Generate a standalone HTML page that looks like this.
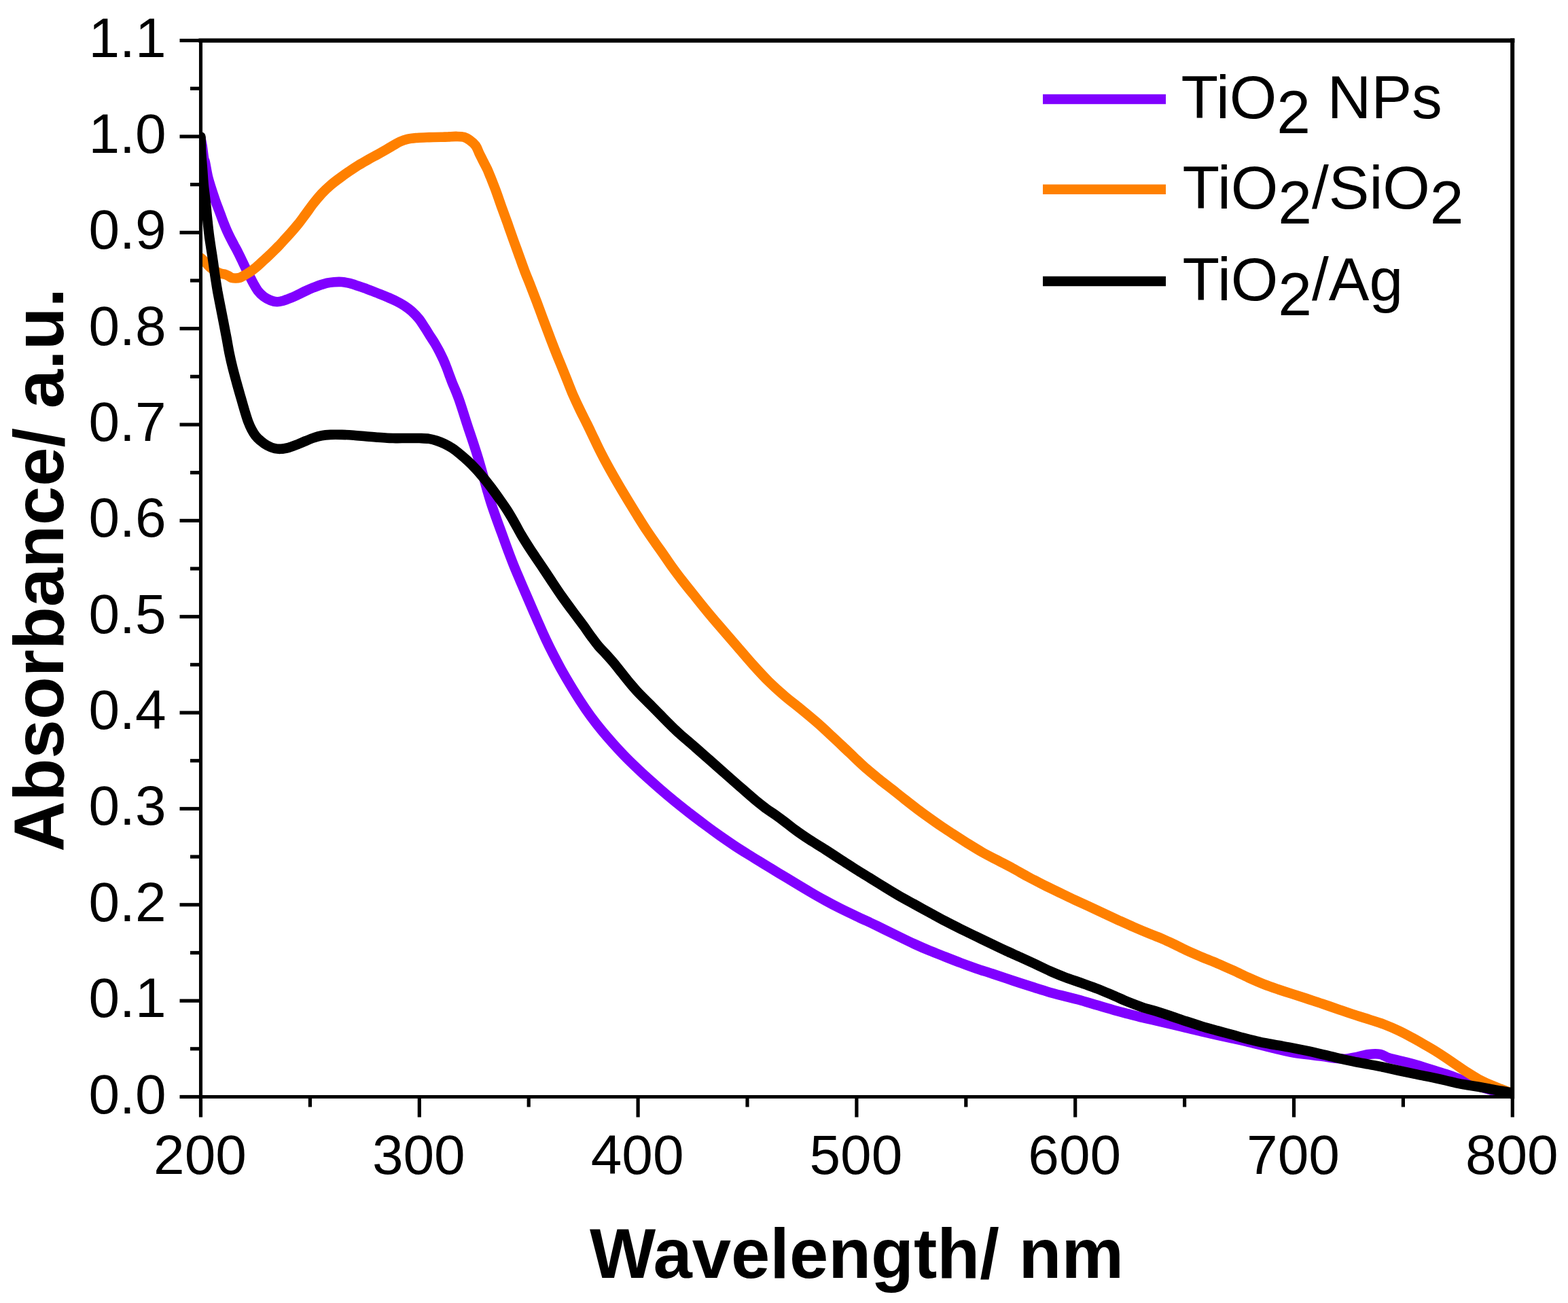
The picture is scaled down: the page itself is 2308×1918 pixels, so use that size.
<!DOCTYPE html>
<html><head><meta charset="utf-8"><style>
html,body{margin:0;padding:0;background:#fff;overflow:hidden;width:2308px;height:1918px;}
svg{display:block;}
</style></head><body>
<svg width="2308" height="1918" viewBox="0 0 2308 1918">
<rect width="2308" height="1918" fill="#fff"/>
<defs><clipPath id="pc"><rect x="295.5" y="59.6" width="1930.8000000000002" height="1554.9"/></clipPath></defs>
<g clip-path="url(#pc)">
<path d="M295.5,204.0 C296.2,207.3 296.8,210.0 297.5,214.0 C298.5,219.7 299.5,231.5 300.5,235.0 C300.8,236.2 301.1,236.1 301.5,237.3 C302.6,240.9 304.2,252.9 306.0,260.2 C307.7,267.2 310.1,274.2 312.0,280.3 C313.7,285.5 315.2,290.1 316.7,294.6 C318.1,298.7 319.6,302.3 321.0,306.1 C322.4,309.9 323.8,313.7 325.3,317.5 C326.7,321.3 328.1,325.2 329.6,329.0 C331.1,332.8 332.7,336.7 334.4,340.5 C336.1,344.2 337.9,348.0 339.8,351.6 C341.6,355.1 343.4,358.4 345.2,361.9 C347.1,365.2 348.9,368.5 350.6,372.0 C352.4,375.5 354.1,379.2 355.9,382.9 C357.7,386.7 359.5,390.6 361.4,394.4 C363.3,398.2 365.3,402.0 367.2,405.8 C369.2,409.6 371.0,413.6 373.1,417.3 C375.1,420.9 377.0,424.7 379.5,427.9 C382.0,431.1 385.0,434.0 388.1,436.4 C391.2,438.7 394.9,440.8 398.3,442.1 C401.4,443.3 404.6,444.2 407.8,444.2 C410.8,444.3 413.8,443.5 416.9,442.7 C420.4,441.8 423.9,440.3 427.5,438.8 C431.3,437.3 435.2,435.4 439.0,433.6 C442.8,431.8 446.6,429.8 450.5,428.0 C454.3,426.3 458.2,424.6 461.9,423.1 C465.4,421.8 468.8,420.4 472.2,419.3 C475.3,418.3 478.1,417.3 481.2,416.6 C484.5,415.9 488.0,415.5 491.5,415.2 C495.2,414.9 499.1,414.7 502.9,415.0 C506.8,415.3 510.6,416.0 514.4,416.9 C518.2,417.8 522.0,419.2 525.8,420.5 C529.7,421.7 533.5,423.0 537.3,424.4 C541.1,425.8 545.0,427.2 548.8,428.7 C552.6,430.2 556.4,431.7 560.2,433.3 C564.1,434.9 567.9,436.4 571.7,438.0 C575.5,439.7 579.4,441.3 583.2,443.2 C587.0,445.1 590.9,447.2 594.6,449.6 C598.5,452.2 602.5,455.0 606.1,458.2 C609.8,461.6 613.5,465.4 616.7,469.4 C619.9,473.5 622.6,478.1 625.4,482.3 C628.1,486.4 630.6,490.6 633.1,494.6 C635.6,498.5 638.2,502.2 640.5,506.1 C642.7,509.9 644.8,513.7 646.8,517.5 C648.7,521.3 650.6,525.2 652.4,529.0 C654.1,532.8 655.7,536.6 657.2,540.5 C658.7,544.3 660.0,548.1 661.4,551.9 C662.8,555.7 664.2,559.6 665.7,563.4 C667.1,567.0 668.7,570.3 670.2,574.0 C671.8,578.0 673.4,581.9 675.1,586.6 C677.2,592.3 679.3,599.1 681.5,605.8 C683.8,613.1 686.4,621.1 688.9,628.8 C691.5,636.4 694.1,644.0 696.6,651.7 C699.1,659.3 701.6,666.9 703.9,674.6 C706.2,682.2 708.3,689.9 710.5,697.5 C712.6,705.2 714.7,713.0 716.8,720.5 C718.9,727.7 720.9,734.8 723.2,741.8 C725.4,748.7 727.8,755.3 730.3,762.3 C732.9,769.7 735.8,777.4 738.6,785.1 C741.5,792.9 744.3,801.0 747.2,808.8 C750.1,816.5 752.9,824.1 756.0,831.7 C759.1,839.4 762.4,847.0 765.6,854.6 C768.9,862.2 772.2,869.9 775.5,877.5 C778.8,885.2 782.2,893.0 785.4,900.5 C788.6,907.7 791.6,914.9 794.8,921.8 C797.7,928.5 800.6,934.9 803.7,941.6 C807.0,948.6 810.5,955.7 814.2,962.9 C818.1,970.4 822.1,978.2 826.3,985.8 C830.6,993.5 835.1,1001.2 839.7,1008.8 C844.3,1016.5 849.1,1024.1 854.0,1031.7 C859.0,1039.4 864.3,1047.2 869.6,1054.6 C874.9,1061.8 880.2,1068.6 885.8,1075.3 C891.2,1081.9 896.6,1088.0 902.5,1094.6 C908.9,1101.7 915.8,1109.2 922.9,1116.4 C930.2,1123.8 938.1,1131.2 945.8,1138.4 C953.4,1145.4 961.1,1152.2 968.8,1158.9 C976.4,1165.5 984.0,1172.0 991.7,1178.4 C999.3,1184.6 1006.9,1190.7 1014.6,1196.6 C1022.2,1202.5 1029.9,1208.3 1037.5,1214.0 C1045.1,1219.7 1052.9,1225.4 1060.5,1230.8 C1067.7,1235.8 1074.8,1240.7 1081.8,1245.4 C1088.5,1249.8 1094.8,1253.7 1101.6,1257.9 C1108.5,1262.3 1115.7,1266.6 1122.9,1271.0 C1130.4,1275.6 1138.2,1280.3 1145.8,1284.9 C1153.5,1289.5 1161.1,1294.2 1168.8,1298.8 C1176.4,1303.4 1184.0,1308.0 1191.7,1312.5 C1199.3,1317.0 1206.9,1321.4 1214.6,1325.5 C1222.2,1329.7 1229.8,1333.7 1237.5,1337.6 C1245.1,1341.4 1253.0,1345.1 1260.5,1348.6 C1267.7,1352.1 1274.9,1355.3 1281.8,1358.5 C1288.5,1361.7 1294.9,1364.8 1301.6,1368.1 C1308.6,1371.5 1315.7,1375.0 1322.9,1378.5 C1330.4,1382.2 1338.2,1386.0 1345.8,1389.5 C1353.4,1393.0 1361.1,1396.4 1368.8,1399.6 C1376.4,1402.7 1384.1,1405.6 1391.7,1408.6 C1399.3,1411.6 1406.9,1414.6 1414.6,1417.5 C1422.2,1420.3 1429.9,1423.1 1437.5,1425.8 C1445.2,1428.4 1453.0,1430.8 1460.5,1433.3 C1467.7,1435.7 1474.8,1438.1 1481.8,1440.4 C1488.5,1442.6 1494.9,1444.8 1501.6,1447.0 C1508.5,1449.2 1515.7,1451.5 1522.9,1453.8 C1530.4,1456.2 1538.2,1458.7 1545.8,1460.9 C1553.5,1463.0 1561.1,1464.9 1568.8,1466.9 C1576.4,1468.9 1584.1,1470.6 1591.7,1472.7 C1599.4,1474.9 1607.0,1477.3 1614.6,1479.6 C1622.2,1481.8 1629.9,1484.1 1637.5,1486.2 C1645.2,1488.4 1653.0,1490.4 1660.5,1492.4 C1667.7,1494.3 1674.8,1496.2 1681.8,1497.9 C1688.5,1499.5 1694.9,1500.8 1701.6,1502.4 C1708.5,1504.0 1715.7,1505.6 1722.9,1507.3 C1730.4,1509.1 1738.2,1511.1 1745.8,1513.0 C1753.5,1514.8 1761.1,1516.7 1768.8,1518.4 C1776.4,1520.2 1784.1,1521.9 1791.7,1523.6 C1799.3,1525.3 1807.0,1527.0 1814.6,1528.7 C1822.2,1530.4 1829.9,1532.1 1837.5,1533.9 C1845.2,1535.6 1853.0,1537.5 1860.5,1539.3 C1867.7,1541.1 1874.8,1543.0 1881.8,1544.7 C1888.5,1546.3 1894.8,1547.8 1901.6,1549.0 C1908.5,1550.3 1915.7,1551.2 1922.9,1552.1 C1930.4,1553.1 1938.2,1553.8 1945.8,1554.8 C1953.5,1555.8 1962.5,1557.4 1968.8,1558.0 C1973.2,1558.4 1976.0,1558.9 1980.2,1558.7 C1985.4,1558.4 1991.7,1557.0 1997.4,1555.9 C2003.2,1554.8 2008.8,1552.6 2014.6,1551.9 C2020.3,1551.2 2026.7,1550.8 2031.8,1551.9 C2036.1,1552.8 2039.4,1555.7 2043.3,1557.0 C2047.1,1558.3 2050.5,1558.9 2054.7,1559.9 C2059.8,1561.2 2066.4,1562.6 2071.9,1564.1 C2077.0,1565.4 2081.9,1566.7 2086.5,1568.0 C2090.7,1569.2 2094.2,1570.5 2098.3,1571.7 C2102.7,1573.1 2107.3,1574.5 2112.1,1576.0 C2117.2,1577.6 2122.9,1579.2 2128.1,1581.0 C2133.2,1582.7 2138.3,1584.5 2143.2,1586.3 C2147.8,1588.1 2152.1,1590.0 2156.6,1591.8 C2161.1,1593.5 2165.7,1595.3 2170.1,1596.8 C2174.4,1598.4 2178.6,1599.7 2182.7,1601.0 C2186.6,1602.2 2190.2,1603.3 2194.2,1604.4 C2198.7,1605.6 2203.6,1606.8 2208.7,1608.0 C2214.2,1609.3 2220.4,1610.7 2226.3,1612.0" fill="none" stroke="#8000FF" stroke-width="14.6" stroke-linejoin="round" stroke-linecap="round"/>
<path d="M295.5,379.5 C297.5,381.4 299.4,383.1 301.5,385.2 C304.1,387.8 306.7,391.3 310.0,394.0 C313.8,397.0 319.4,400.6 323.2,402.1 C325.8,403.1 327.9,403.0 330.1,403.6 C332.1,404.2 333.9,404.9 335.8,405.8 C337.8,406.7 339.6,408.4 341.6,409.0 C343.5,409.6 345.4,409.5 347.3,409.5 C349.2,409.5 351.1,409.3 353.0,408.7 C355.0,408.1 356.9,406.8 358.8,405.8 C360.7,404.7 362.6,403.6 364.5,402.4 C366.4,401.2 368.3,400.0 370.2,398.7 C372.2,397.3 374.1,395.8 376.0,394.2 C377.9,392.7 379.8,390.9 381.7,389.2 C383.6,387.5 385.5,385.7 387.4,383.9 C389.3,382.2 391.3,380.4 393.2,378.6 C395.1,376.8 397.0,375.0 398.9,373.2 C400.8,371.4 402.7,369.6 404.6,367.7 C406.5,365.8 408.3,364.0 410.3,361.9 C412.6,359.6 414.9,357.0 417.5,354.1 C420.6,350.8 424.1,347.0 427.5,343.2 C431.3,338.9 435.3,334.3 439.0,329.7 C442.8,325.0 446.3,319.9 450.0,315.0 C453.7,310.0 457.2,304.9 461.0,299.9 C464.9,294.9 469.0,289.9 473.3,285.2 C477.6,280.7 482.1,276.5 486.7,272.5 C491.3,268.5 496.1,265.0 500.9,261.5 C505.6,258.0 510.3,254.7 515.0,251.5 C519.6,248.4 524.2,245.3 528.8,242.5 C533.3,239.7 537.9,237.2 542.5,234.6 C547.1,232.0 551.8,229.6 556.3,227.1 C560.6,224.6 565.0,222.1 569.1,219.8 C572.8,217.7 576.3,215.6 579.6,213.7 C582.8,211.9 585.4,210.0 588.6,208.6 C592.0,207.1 595.4,205.8 599.4,204.9 C603.9,203.8 609.2,203.4 614.4,202.9 C619.9,202.4 625.9,202.3 631.6,202.1 C637.3,202.0 643.7,201.9 648.8,201.8 C652.9,201.7 656.2,201.5 660.0,201.4 C663.8,201.2 667.7,200.8 671.5,200.9 C675.3,201.0 679.5,200.8 682.9,201.8 C685.9,202.7 688.3,204.1 691.0,206.0 C694.1,208.2 697.7,211.1 700.1,214.4 C702.5,217.7 703.7,222.0 705.5,225.8 C707.4,229.6 709.3,233.5 711.2,237.3 C713.1,241.1 715.3,244.9 717.1,248.8 C718.9,252.6 720.3,256.4 721.9,260.2 C723.4,264.0 724.9,267.9 726.4,271.7 C727.9,275.5 729.4,279.3 730.8,283.2 C732.2,287.0 733.5,290.8 734.8,294.6 C736.1,298.4 737.4,302.3 738.8,306.1 C740.2,309.9 741.6,313.7 743.0,317.5 C744.4,321.3 745.8,325.2 747.2,329.0 C748.5,332.8 749.8,336.7 751.2,340.5 C752.5,344.3 753.8,348.0 755.2,351.9 C756.7,356.1 758.3,360.2 759.9,364.7 C761.8,369.8 763.7,375.4 765.8,381.0 C768.0,387.2 770.3,393.8 772.8,400.4 C775.4,407.1 778.3,413.9 781.0,420.9 C783.8,428.1 786.7,435.5 789.5,442.9 C792.4,450.5 795.1,458.2 798.0,465.8 C800.9,473.5 803.8,481.1 806.7,488.8 C809.5,496.4 812.4,504.1 815.4,511.7 C818.4,519.4 821.5,527.0 824.6,534.6 C827.7,542.2 830.8,549.9 833.9,557.5 C837.0,565.2 839.9,572.9 843.1,580.5 C846.4,587.9 849.8,595.3 853.3,602.5 C856.7,609.7 860.4,616.6 863.9,623.8 C867.5,631.0 870.9,638.4 874.5,645.8 C878.2,653.4 881.8,661.2 885.8,668.8 C889.7,676.5 893.9,684.1 898.1,691.7 C902.4,699.4 906.8,707.0 911.2,714.6 C915.7,722.3 920.3,729.9 924.9,737.5 C929.6,745.2 934.3,753.0 939.0,760.5 C943.5,767.7 948.1,775.0 952.6,781.8 C956.9,788.3 961.1,794.2 965.4,800.4 C969.6,806.4 974.0,812.4 978.1,818.4 C982.2,824.2 986.0,830.0 990.2,835.8 C994.5,841.7 998.7,847.4 1003.6,853.6 C1009.1,860.7 1015.3,868.4 1021.5,876.0 C1027.9,884.1 1034.6,892.5 1041.5,900.8 C1048.4,909.2 1055.6,917.5 1062.9,926.0 C1070.4,934.7 1078.2,943.6 1085.8,952.5 C1093.5,961.3 1101.0,970.4 1108.8,979.0 C1116.3,987.3 1123.9,995.7 1131.7,1003.4 C1139.2,1010.7 1146.9,1017.6 1154.6,1024.2 C1162.1,1030.7 1169.9,1036.4 1177.5,1042.6 C1185.2,1048.9 1193.0,1055.3 1200.5,1061.8 C1207.8,1068.1 1215.0,1074.8 1221.8,1081.2 C1228.3,1087.1 1234.3,1092.8 1240.4,1098.6 C1246.5,1104.3 1252.3,1110.0 1258.3,1115.7 C1264.4,1121.4 1270.5,1127.2 1276.7,1132.6 C1282.7,1137.9 1288.9,1142.8 1295.0,1147.7 C1301.1,1152.6 1307.3,1157.3 1313.4,1162.1 C1319.5,1166.9 1325.6,1171.9 1331.7,1176.6 C1337.8,1181.4 1343.9,1186.2 1350.0,1190.8 C1356.1,1195.4 1362.3,1199.9 1368.4,1204.2 C1374.1,1208.3 1379.7,1212.3 1385.5,1216.2 C1391.1,1220.0 1396.5,1223.5 1402.4,1227.4 C1408.9,1231.6 1415.8,1236.1 1422.9,1240.6 C1430.3,1245.2 1438.1,1250.1 1445.8,1254.5 C1453.4,1258.8 1461.1,1262.6 1468.8,1266.6 C1476.4,1270.6 1484.1,1274.5 1491.7,1278.6 C1499.4,1282.8 1506.9,1287.3 1514.6,1291.4 C1522.2,1295.5 1529.9,1299.3 1537.5,1303.2 C1545.2,1307.0 1553.0,1310.7 1560.5,1314.3 C1567.7,1317.8 1574.8,1321.4 1581.8,1324.7 C1588.5,1327.8 1594.9,1330.6 1601.6,1333.7 C1608.6,1337.0 1615.7,1340.3 1622.9,1343.7 C1630.4,1347.2 1638.2,1350.8 1645.8,1354.3 C1653.5,1357.8 1661.1,1361.3 1668.8,1364.6 C1676.4,1367.9 1684.4,1371.3 1691.7,1374.3 C1698.4,1377.1 1704.9,1379.4 1710.9,1381.9 C1716.5,1384.3 1721.1,1386.5 1726.5,1389.1 C1732.7,1392.0 1739.1,1395.5 1745.8,1398.6 C1753.1,1402.0 1761.1,1405.4 1768.8,1408.7 C1776.4,1411.9 1784.1,1414.8 1791.7,1418.1 C1799.4,1421.4 1807.0,1424.8 1814.6,1428.2 C1822.3,1431.7 1829.9,1435.5 1837.5,1439.0 C1845.1,1442.4 1852.9,1445.9 1860.5,1448.9 C1867.7,1451.7 1874.8,1454.1 1881.8,1456.5 C1888.5,1458.7 1894.9,1460.7 1901.6,1462.9 C1908.5,1465.1 1915.7,1467.4 1922.9,1469.8 C1930.4,1472.3 1938.2,1474.8 1945.8,1477.4 C1953.5,1480.0 1961.1,1482.6 1968.8,1485.3 C1976.4,1487.9 1984.0,1490.6 1991.7,1493.1 C1999.3,1495.7 2007.0,1497.9 2014.6,1500.4 C2022.2,1502.9 2030.0,1505.2 2037.5,1508.0 C2045.0,1510.9 2052.6,1514.1 2059.6,1517.5 C2066.4,1520.7 2072.9,1524.3 2079.1,1527.7 C2085.0,1530.9 2090.5,1534.0 2096.0,1537.2 C2101.5,1540.3 2106.8,1543.3 2112.1,1546.6 C2117.5,1549.9 2122.8,1553.4 2128.1,1557.0 C2133.5,1560.6 2138.8,1564.4 2144.2,1568.0 C2149.5,1571.7 2154.8,1575.4 2160.2,1578.8 C2165.5,1582.2 2170.9,1585.6 2176.3,1588.6 C2181.6,1591.4 2186.9,1593.8 2192.3,1596.2 C2197.8,1598.6 2203.3,1600.7 2208.9,1602.9 C2214.6,1605.1 2220.5,1607.3 2226.3,1609.5" fill="none" stroke="#FF8000" stroke-width="14.6" stroke-linejoin="round" stroke-linecap="round"/>
<path d="M295.5,201.4 C295.6,205.6 295.7,209.9 295.8,214.0 C295.9,218.0 295.9,221.2 296.2,225.8 C296.6,232.2 297.4,241.1 298.0,248.8 C298.6,256.4 299.0,264.1 299.7,271.7 C300.4,279.3 301.6,287.0 302.4,294.6 C303.3,302.2 303.9,309.9 304.7,317.5 C305.5,325.1 306.2,332.6 307.1,340.0 C307.9,347.2 309.0,354.6 310.0,361.1 C310.8,366.7 311.7,371.8 312.4,376.6 C313.0,380.7 313.5,383.9 314.1,388.1 C314.8,393.4 315.6,399.6 316.5,405.8 C317.6,413.0 318.9,421.1 320.2,428.8 C321.6,436.4 323.1,444.1 324.6,451.7 C326.1,459.3 327.6,467.0 329.1,474.6 C330.6,482.2 332.0,489.9 333.5,497.5 C334.9,505.1 336.1,512.6 337.6,520.0 C339.1,527.3 340.7,534.4 342.5,541.6 C344.3,548.8 346.3,556.0 348.3,563.3 C350.3,570.7 352.6,578.5 354.7,585.8 C356.7,592.7 358.6,599.7 360.5,605.9 C362.1,611.2 363.5,616.0 365.2,620.5 C366.8,624.7 368.4,628.5 370.3,632.0 C372.0,635.3 373.8,638.4 376.0,641.2 C378.1,643.9 380.4,646.2 383.2,648.5 C386.1,651.0 389.6,653.7 393.2,655.6 C396.8,657.6 400.7,659.4 404.6,660.2 C408.4,661.0 412.3,661.0 416.1,660.6 C419.9,660.3 423.7,659.2 427.5,658.0 C431.4,656.9 435.2,655.2 439.0,653.7 C442.8,652.2 446.6,650.4 450.5,648.9 C454.3,647.3 458.1,645.6 461.9,644.4 C465.7,643.1 469.4,641.9 473.4,641.2 C477.6,640.4 482.0,640.1 486.6,639.9 C491.8,639.6 497.5,639.7 503.1,639.9 C508.9,640.0 514.9,640.3 520.7,640.7 C526.5,641.1 532.2,641.7 537.9,642.2 C543.6,642.7 549.5,643.3 555.0,643.7 C560.1,644.1 565.1,644.5 569.9,644.8 C574.2,645.0 577.9,645.0 582.4,645.1 C587.4,645.2 593.0,645.0 598.6,645.0 C604.6,645.0 611.4,644.9 617.2,645.0 C622.3,645.2 627.0,645.2 631.5,645.9 C635.5,646.5 639.2,647.5 642.9,648.7 C646.8,650.0 650.6,651.5 654.4,653.3 C658.3,655.2 662.1,657.3 665.8,659.8 C669.7,662.4 673.5,665.5 677.3,668.6 C681.2,671.8 685.0,675.1 688.8,678.6 C692.7,682.2 696.5,686.0 700.2,690.1 C704.1,694.3 707.9,698.8 711.7,703.4 C715.6,708.1 719.4,713.0 723.2,718.0 C727.0,723.1 730.8,728.3 734.6,733.7 C738.5,739.2 742.5,744.8 746.2,750.5 C749.9,756.3 753.4,762.3 756.8,768.3 C760.4,774.5 763.5,780.8 767.3,787.3 C771.4,794.3 776.0,801.5 780.7,808.8 C785.6,816.3 791.1,824.0 796.2,831.7 C801.3,839.3 806.3,847.0 811.4,854.6 C816.5,862.3 821.5,869.9 826.8,877.5 C832.2,885.2 838.0,893.0 843.6,900.5 C848.9,907.7 854.6,915.1 859.5,921.8 C863.8,927.8 867.6,933.6 871.5,938.7 C874.8,943.2 877.7,947.2 881.1,951.2 C884.5,955.1 888.1,958.6 891.7,962.5 C895.5,966.7 899.4,971.0 903.2,975.4 C907.1,980.0 910.8,985.0 914.6,989.8 C918.4,994.5 922.2,999.4 926.1,1004.1 C929.9,1008.6 933.6,1013.1 937.5,1017.4 C941.3,1021.5 945.2,1025.4 949.0,1029.2 C952.8,1033.1 956.7,1036.8 960.5,1040.6 C964.3,1044.4 968.1,1048.3 971.9,1052.2 C975.7,1056.0 979.7,1060.1 983.4,1063.8 C986.8,1067.2 989.8,1070.3 993.2,1073.5 C996.8,1076.9 1000.2,1079.9 1004.4,1083.7 C1009.8,1088.4 1016.4,1094.0 1022.9,1099.6 C1030.1,1105.9 1038.2,1113.0 1045.8,1119.8 C1053.5,1126.5 1061.1,1133.4 1068.8,1140.1 C1076.4,1146.8 1084.1,1153.7 1091.5,1160.1 C1098.4,1166.1 1105.3,1172.3 1111.7,1177.6 C1117.2,1182.1 1122.4,1186.2 1127.5,1190.1 C1132.2,1193.5 1136.7,1196.3 1141.3,1199.5 C1145.9,1202.8 1150.3,1206.0 1155.0,1209.6 C1160.2,1213.5 1165.3,1217.8 1171.1,1222.0 C1177.5,1226.7 1184.6,1231.5 1191.7,1236.2 C1199.1,1241.0 1207.0,1245.6 1214.6,1250.5 C1222.3,1255.4 1229.9,1260.4 1237.5,1265.4 C1245.2,1270.3 1252.9,1275.4 1260.5,1280.2 C1267.7,1284.7 1274.9,1288.9 1281.8,1293.2 C1288.5,1297.4 1294.9,1301.4 1301.6,1305.5 C1308.5,1309.8 1315.6,1314.1 1322.9,1318.3 C1330.4,1322.6 1338.2,1326.8 1345.8,1331.0 C1353.5,1335.3 1361.1,1339.4 1368.8,1343.6 C1376.4,1347.7 1384.0,1352.1 1391.7,1356.1 C1399.3,1360.1 1406.9,1363.9 1414.6,1367.7 C1422.2,1371.5 1429.9,1375.0 1437.5,1378.8 C1445.2,1382.5 1453.0,1386.3 1460.5,1389.9 C1467.7,1393.4 1474.8,1396.8 1481.8,1400.0 C1488.5,1403.1 1494.9,1405.8 1501.6,1408.9 C1508.6,1412.1 1515.7,1415.4 1522.9,1418.7 C1530.4,1422.2 1538.1,1426.1 1545.8,1429.5 C1553.4,1432.9 1561.1,1436.0 1568.8,1439.0 C1576.4,1441.8 1584.1,1444.2 1591.7,1446.9 C1599.3,1449.7 1607.0,1452.3 1614.6,1455.2 C1622.3,1458.2 1629.9,1461.5 1637.5,1464.7 C1645.2,1468.0 1652.9,1471.7 1660.5,1474.8 C1667.7,1477.7 1674.8,1480.4 1681.8,1482.8 C1688.5,1485.0 1694.9,1486.5 1701.6,1488.5 C1708.6,1490.7 1715.7,1493.0 1722.9,1495.5 C1730.4,1498.0 1738.2,1500.8 1745.8,1503.3 C1753.5,1505.9 1761.1,1508.3 1768.8,1510.7 C1776.4,1512.9 1784.1,1515.0 1791.7,1517.1 C1799.3,1519.2 1807.0,1521.2 1814.6,1523.3 C1822.2,1525.4 1829.9,1527.6 1837.5,1529.6 C1845.2,1531.5 1852.9,1533.5 1860.5,1535.0 C1867.7,1536.5 1874.8,1537.6 1881.8,1538.8 C1888.5,1540.0 1894.9,1541.0 1901.6,1542.3 C1908.6,1543.7 1915.7,1545.2 1922.9,1546.7 C1930.4,1548.3 1938.2,1550.1 1945.8,1551.9 C1953.5,1553.6 1961.1,1555.6 1968.8,1557.3 C1976.4,1559.1 1984.0,1560.8 1991.7,1562.3 C1999.3,1563.9 2007.0,1565.2 2014.6,1566.6 C2022.2,1568.1 2030.0,1569.5 2037.5,1571.1 C2045.0,1572.7 2052.5,1574.4 2059.6,1576.0 C2066.3,1577.5 2072.9,1578.9 2079.1,1580.2 C2085.0,1581.5 2090.5,1582.5 2096.0,1583.6 C2101.4,1584.7 2106.7,1585.7 2112.1,1586.8 C2117.4,1588.0 2122.8,1589.3 2128.1,1590.5 C2133.5,1591.7 2138.8,1593.2 2144.2,1594.3 C2149.5,1595.4 2154.9,1596.3 2160.2,1597.2 C2165.6,1598.1 2170.9,1598.8 2176.3,1599.7 C2181.6,1600.6 2186.9,1601.8 2192.3,1602.8 C2197.8,1603.8 2203.3,1604.9 2208.9,1605.8 C2214.6,1606.8 2220.5,1607.6 2226.3,1608.5" fill="none" stroke="#000000" stroke-width="14.6" stroke-linejoin="round" stroke-linecap="round"/>
</g>
<line x1="295.5" y1="59.6" x2="2226.3" y2="59.6" stroke="#000" stroke-width="6.2" stroke-linecap="square"/>
<line x1="2226.2000000000003" y1="59.6" x2="2226.2000000000003" y2="1614.5" stroke="#000" stroke-width="6.0" stroke-linecap="square"/>
<line x1="295.5" y1="59.6" x2="295.5" y2="1614.5" stroke="#000" stroke-width="5.1" stroke-linecap="square"/>
<line x1="295.5" y1="1614.5" x2="2226.3" y2="1614.5" stroke="#000" stroke-width="5.0" stroke-linecap="square"/>
<line x1="264.5" y1="1614.50" x2="295.5" y2="1614.50" stroke="#000" stroke-width="5.2"/>
<text x="244.5" y="1638.50" text-anchor="end" font-size="82" font-family='"Liberation Sans", Arial, sans-serif'>0.0</text>
<line x1="280.0" y1="1543.82" x2="295.5" y2="1543.82" stroke="#000" stroke-width="5.2"/>
<line x1="264.5" y1="1473.15" x2="295.5" y2="1473.15" stroke="#000" stroke-width="5.2"/>
<text x="244.5" y="1497.15" text-anchor="end" font-size="82" font-family='"Liberation Sans", Arial, sans-serif'>0.1</text>
<line x1="280.0" y1="1402.47" x2="295.5" y2="1402.47" stroke="#000" stroke-width="5.2"/>
<line x1="264.5" y1="1331.79" x2="295.5" y2="1331.79" stroke="#000" stroke-width="5.2"/>
<text x="244.5" y="1355.79" text-anchor="end" font-size="82" font-family='"Liberation Sans", Arial, sans-serif'>0.2</text>
<line x1="280.0" y1="1261.11" x2="295.5" y2="1261.11" stroke="#000" stroke-width="5.2"/>
<line x1="264.5" y1="1190.44" x2="295.5" y2="1190.44" stroke="#000" stroke-width="5.2"/>
<text x="244.5" y="1214.44" text-anchor="end" font-size="82" font-family='"Liberation Sans", Arial, sans-serif'>0.3</text>
<line x1="280.0" y1="1119.76" x2="295.5" y2="1119.76" stroke="#000" stroke-width="5.2"/>
<line x1="264.5" y1="1049.08" x2="295.5" y2="1049.08" stroke="#000" stroke-width="5.2"/>
<text x="244.5" y="1073.08" text-anchor="end" font-size="82" font-family='"Liberation Sans", Arial, sans-serif'>0.4</text>
<line x1="280.0" y1="978.40" x2="295.5" y2="978.40" stroke="#000" stroke-width="5.2"/>
<line x1="264.5" y1="907.73" x2="295.5" y2="907.73" stroke="#000" stroke-width="5.2"/>
<text x="244.5" y="931.73" text-anchor="end" font-size="82" font-family='"Liberation Sans", Arial, sans-serif'>0.5</text>
<line x1="280.0" y1="837.05" x2="295.5" y2="837.05" stroke="#000" stroke-width="5.2"/>
<line x1="264.5" y1="766.37" x2="295.5" y2="766.37" stroke="#000" stroke-width="5.2"/>
<text x="244.5" y="790.37" text-anchor="end" font-size="82" font-family='"Liberation Sans", Arial, sans-serif'>0.6</text>
<line x1="280.0" y1="695.70" x2="295.5" y2="695.70" stroke="#000" stroke-width="5.2"/>
<line x1="264.5" y1="625.02" x2="295.5" y2="625.02" stroke="#000" stroke-width="5.2"/>
<text x="244.5" y="649.02" text-anchor="end" font-size="82" font-family='"Liberation Sans", Arial, sans-serif'>0.7</text>
<line x1="280.0" y1="554.34" x2="295.5" y2="554.34" stroke="#000" stroke-width="5.2"/>
<line x1="264.5" y1="483.66" x2="295.5" y2="483.66" stroke="#000" stroke-width="5.2"/>
<text x="244.5" y="507.66" text-anchor="end" font-size="82" font-family='"Liberation Sans", Arial, sans-serif'>0.8</text>
<line x1="280.0" y1="412.99" x2="295.5" y2="412.99" stroke="#000" stroke-width="5.2"/>
<line x1="264.5" y1="342.31" x2="295.5" y2="342.31" stroke="#000" stroke-width="5.2"/>
<text x="244.5" y="366.31" text-anchor="end" font-size="82" font-family='"Liberation Sans", Arial, sans-serif'>0.9</text>
<line x1="280.0" y1="271.63" x2="295.5" y2="271.63" stroke="#000" stroke-width="5.2"/>
<line x1="264.5" y1="200.95" x2="295.5" y2="200.95" stroke="#000" stroke-width="5.2"/>
<text x="244.5" y="224.95" text-anchor="end" font-size="82" font-family='"Liberation Sans", Arial, sans-serif'>1.0</text>
<line x1="280.0" y1="130.28" x2="295.5" y2="130.28" stroke="#000" stroke-width="5.2"/>
<line x1="264.5" y1="59.60" x2="295.5" y2="59.60" stroke="#000" stroke-width="5.2"/>
<text x="244.5" y="83.60" text-anchor="end" font-size="82" font-family='"Liberation Sans", Arial, sans-serif'>1.1</text>
<line x1="295.50" y1="1614.5" x2="295.50" y2="1644.5" stroke="#000" stroke-width="5.2"/>
<text x="294.50" y="1727.5" text-anchor="middle" font-size="82" font-family='"Liberation Sans", Arial, sans-serif'>200</text>
<line x1="456.40" y1="1614.5" x2="456.40" y2="1629.5" stroke="#000" stroke-width="5.2"/>
<line x1="617.30" y1="1614.5" x2="617.30" y2="1644.5" stroke="#000" stroke-width="5.2"/>
<text x="616.30" y="1727.5" text-anchor="middle" font-size="82" font-family='"Liberation Sans", Arial, sans-serif'>300</text>
<line x1="778.20" y1="1614.5" x2="778.20" y2="1629.5" stroke="#000" stroke-width="5.2"/>
<line x1="939.10" y1="1614.5" x2="939.10" y2="1644.5" stroke="#000" stroke-width="5.2"/>
<text x="938.10" y="1727.5" text-anchor="middle" font-size="82" font-family='"Liberation Sans", Arial, sans-serif'>400</text>
<line x1="1100.00" y1="1614.5" x2="1100.00" y2="1629.5" stroke="#000" stroke-width="5.2"/>
<line x1="1260.90" y1="1614.5" x2="1260.90" y2="1644.5" stroke="#000" stroke-width="5.2"/>
<text x="1259.90" y="1727.5" text-anchor="middle" font-size="82" font-family='"Liberation Sans", Arial, sans-serif'>500</text>
<line x1="1421.80" y1="1614.5" x2="1421.80" y2="1629.5" stroke="#000" stroke-width="5.2"/>
<line x1="1582.70" y1="1614.5" x2="1582.70" y2="1644.5" stroke="#000" stroke-width="5.2"/>
<text x="1581.70" y="1727.5" text-anchor="middle" font-size="82" font-family='"Liberation Sans", Arial, sans-serif'>600</text>
<line x1="1743.60" y1="1614.5" x2="1743.60" y2="1629.5" stroke="#000" stroke-width="5.2"/>
<line x1="1904.50" y1="1614.5" x2="1904.50" y2="1644.5" stroke="#000" stroke-width="5.2"/>
<text x="1903.50" y="1727.5" text-anchor="middle" font-size="82" font-family='"Liberation Sans", Arial, sans-serif'>700</text>
<line x1="2065.40" y1="1614.5" x2="2065.40" y2="1629.5" stroke="#000" stroke-width="5.2"/>
<line x1="2226.30" y1="1614.5" x2="2226.30" y2="1644.5" stroke="#000" stroke-width="5.2"/>
<text x="2225.30" y="1727.5" text-anchor="middle" font-size="82" font-family='"Liberation Sans", Arial, sans-serif'>800</text>
<text transform="translate(1261,1881.1) scale(1,1.0)" x="0" y="0" text-anchor="middle" font-size="103" font-weight="bold" font-family='"Liberation Sans", Arial, sans-serif'>Wavelength/ nm</text>
<text transform="translate(92.9,838.8) rotate(-90) scale(1,1.0)" x="0" y="0" text-anchor="middle" font-size="103" font-weight="bold" font-family='"Liberation Sans", Arial, sans-serif'>Absorbance/ a.u.</text>
<line x1="1535" y1="146.0" x2="1716" y2="146.0" stroke="#8000FF" stroke-width="14.6"/>
<text x="1738.6" y="174" font-size="89.4" font-family='"Liberation Sans", Arial, sans-serif'>TiO<tspan dy="22">2</tspan><tspan dy="-22"> NPs</tspan></text>
<line x1="1535" y1="278.7" x2="1716" y2="278.7" stroke="#FF8000" stroke-width="14.6"/>
<text x="1740.6" y="307" font-size="89.4" font-family='"Liberation Sans", Arial, sans-serif'>TiO<tspan dy="22">2</tspan><tspan dy="-22">/SiO</tspan><tspan dy="22">2</tspan></text>
<line x1="1535" y1="414.0" x2="1716" y2="414.0" stroke="#000000" stroke-width="14.6"/>
<text x="1740.6" y="442" font-size="89.4" font-family='"Liberation Sans", Arial, sans-serif'>TiO<tspan dy="22">2</tspan><tspan dy="-22">/Ag</tspan></text>
</svg>
</body></html>
